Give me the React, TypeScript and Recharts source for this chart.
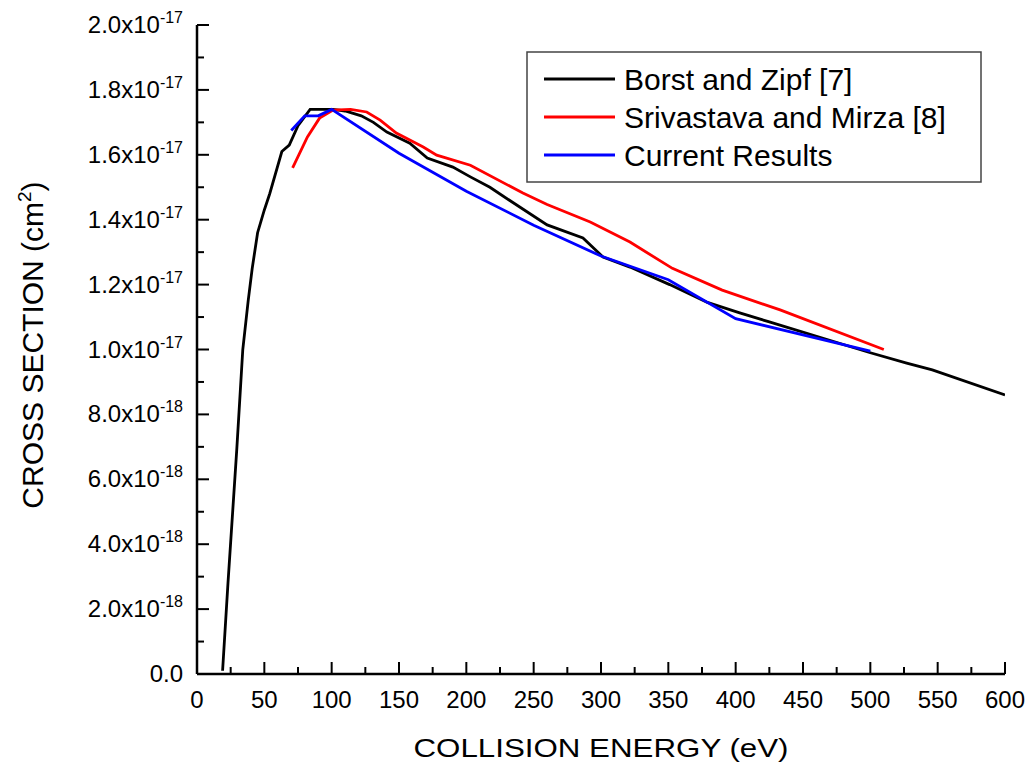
import React from 'react';
import { LineChart, Line, XAxis, YAxis, Legend } from 'recharts';

// Collision energy (eV) / cross section (cm^2)
const borstX = [19, 23, 29.5, 34, 38, 41, 45, 50, 54, 63, 68.5, 75, 84, 101, 110, 122, 131, 141, 158, 171, 190, 203, 217.5, 232, 260, 286.6, 301.5, 321.5, 351, 379, 403, 425, 500, 527, 546, 600];
const borstY = [0.1e-18, 2.8e-18, 6.9e-18, 10.0e-18, 11.5e-18, 12.5e-18, 13.6e-18, 14.3e-18, 14.8e-18, 16.1e-18, 16.3e-18, 16.9e-18, 17.4e-18, 17.4e-18, 17.35e-18, 17.2e-18, 17.0e-18, 16.7e-18, 16.36e-18, 15.9e-18, 15.62e-18, 15.32e-18, 15.0e-18, 14.6e-18, 13.84e-18, 13.44e-18, 12.85e-18, 12.54e-18, 12.0e-18, 11.45e-18, 11.13e-18, 10.85e-18, 9.9e-18, 9.58e-18, 9.37e-18, 8.6e-18];

const srivX = [71, 82, 91, 101, 114, 126, 136, 148, 168, 178, 203, 242, 260, 292, 321.5, 353, 390, 433, 510];
const srivY = [15.6e-18, 16.55e-18, 17.13e-18, 17.38e-18, 17.4e-18, 17.32e-18, 17.07e-18, 16.67e-18, 16.24e-18, 15.99e-18, 15.68e-18, 14.82e-18, 14.47e-18, 13.93e-18, 13.31e-18, 12.5e-18, 11.83e-18, 11.22e-18, 10.0e-18];

const currX = [70, 80, 90, 100, 150, 200, 250, 300, 350, 400, 500];
const currY = [16.75e-18, 17.2e-18, 17.2e-18, 17.4e-18, 16.05e-18, 14.88e-18, 13.83e-18, 12.88e-18, 12.15e-18, 10.95e-18, 9.95e-18];

const xTicks = [0, 25, 50, 75, 100, 125, 150, 175, 200, 225, 250, 275, 300, 325, 350, 375, 400, 425, 450, 475, 500, 525, 550, 575, 600];
const xTickLabels = ['0', '', '50', '', '100', '', '150', '', '200', '', '250', '', '300', '', '350', '', '400', '', '450', '', '500', '', '550', '', '600'];

const yTicks = [0, 1e-18, 2e-18, 3e-18, 4e-18, 5e-18, 6e-18, 7e-18, 8e-18, 9e-18, 10e-18, 11e-18, 12e-18, 13e-18, 14e-18, 15e-18, 16e-18, 17e-18, 18e-18, 19e-18, 20e-18];
const yTickMantissa = ['0.0', '', '2.0', '', '4.0', '', '6.0', '', '8.0', '', '1.0', '', '1.2', '', '1.4', '', '1.6', '', '1.8', '', '2.0'];
const yTickExponent = ['', '', '-18', '', '-18', '', '-18', '', '-18', '', '-17', '', '-17', '', '-17', '', '-17', '', '-17', '', '-17'];

const seriesNames = ['Borst and Zipf [7]', 'Srivastava and Mirza [8]', 'Current Results'];
const seriesColors = ['#000000', '#ff0000', '#0000ff'];

const toPoints = (xs: number[], ys: number[]) => xs.map((x, i) => ({ x, y: ys[i] }));
const borstData = toPoints(borstX, borstY);
const srivData = toPoints(srivX, srivY);
const currData = toPoints(currX, currY);

const FONT = '"Liberation Sans", Arial, sans-serif';
const MAJOR = 12;
const MINOR = 7;

const BottomTick = (props: any) => {
  const { x, y, index } = props;
  const label = xTickLabels[index];
  const len = label ? MAJOR : MINOR;
  return (
    <g>
      <line x1={x} y1={y} x2={x} y2={y - len} stroke="#000" strokeWidth={2} />
      {label ? (
        <text x={x} y={y + 34} textAnchor="middle" fontSize={24} fontFamily={FONT} fill="#000">
          {label}
        </text>
      ) : null}
    </g>
  );
};

const TopTick = (props: any) => {
  const { x, y, index } = props;
  const len = xTickLabels[index] ? MAJOR : MINOR;
  return <line x1={x} y1={y} x2={x} y2={y + len} stroke="#000" strokeWidth={2} />;
};

const LeftTick = (props: any) => {
  const { x, y, index } = props;
  const m = yTickMantissa[index];
  const e = yTickExponent[index];
  const len = m ? MAJOR : MINOR;
  return (
    <g>
      <line x1={x} y1={y} x2={x + len} y2={y} stroke="#000" strokeWidth={2} />
      {m ? (
        <text x={x - 14} y={y + 8} textAnchor="end" fontSize={24} fontFamily={FONT} fill="#000">
          {m}
          {e ? 'x10' : ''}
          {e ? (
            <tspan dy={-10} fontSize={16}>
              {e}
            </tspan>
          ) : null}
        </text>
      ) : null}
    </g>
  );
};

const RightTick = (props: any) => {
  const { x, y, index } = props;
  const len = yTickMantissa[index] ? MAJOR : MINOR;
  return <line x1={x} y1={y} x2={x - len} y2={y} stroke="#000" strokeWidth={2} />;
};

const XTitle = () => (
  <text x={601} y={757} textAnchor="middle" fontSize={26} fontFamily={FONT} fill="#000" textLength={375} lengthAdjust="spacingAndGlyphs">
    COLLISION ENERGY (eV)
  </text>
);

const YTitle = () => (
  <text x={43} y={345} transform="rotate(-90 43 345)" textAnchor="middle" fontSize={30} fontFamily={FONT} fill="#000">
    CROSS SECTION (cm
    <tspan dy={-12} fontSize={19}>2</tspan>
    <tspan dy={12}>)</tspan>
  </text>
);

const LegendBox = () => (
  <svg width={456} height={132} style={{ display: 'block' }}>
    <rect x={1} y={1} width={454} height={130} fill="#fff" stroke="#444" strokeWidth={1.5} />
    {seriesNames.map((name, i) => (
      <g key={name}>
        <line x1={18} x2={89} y1={28 + i * 38} y2={28 + i * 38} stroke={seriesColors[i]} strokeWidth={2.8} />
        <text x={98} y={39 + i * 38} fontSize={30} fontFamily={FONT} fill="#000">
          {name}
        </text>
      </g>
    ))}
  </svg>
);

export default function App() {
  return (
    <div style={{ position: 'absolute', left: 0, top: 0, width: 1030, height: 764, background: '#fff' }}>
      <LineChart width={1030} height={764} margin={{ top: 25, right: 25, bottom: 0, left: 0 }}>
        <XAxis
          xAxisId="b"
          dataKey="x"
          type="number"
          domain={[0, 600]}
          ticks={xTicks}
          interval={0}
          height={90}
          tickSize={0}
          tickMargin={0}
          tickLine={false}
          axisLine={{ stroke: '#000', strokeWidth: 2.5 }}
          tick={<BottomTick />}
          label={<XTitle />}
          allowDataOverflow
        />
        <XAxis
          xAxisId="t"
          dataKey="x"
          type="number"
          orientation="top"
          domain={[0, 600]}
          ticks={xTicks}
          interval={0}
          height={0}
          tickSize={0}
          tickMargin={0}
          tickLine={false}
          axisLine={{ stroke: '#000', strokeWidth: 2.5 }}
          tick={<TopTick />}
          allowDataOverflow
        />
        <YAxis
          yAxisId="l"
          type="number"
          domain={[0, 2e-17]}
          ticks={yTicks}
          interval={0}
          width={197}
          tickSize={0}
          tickMargin={0}
          tickLine={false}
          axisLine={{ stroke: '#000', strokeWidth: 2.5 }}
          tick={<LeftTick />}
          label={<YTitle />}
          allowDataOverflow
        />
        <YAxis
          yAxisId="r"
          type="number"
          orientation="right"
          domain={[0, 2e-17]}
          ticks={yTicks}
          interval={0}
          width={0}
          tickSize={0}
          tickMargin={0}
          tickLine={false}
          axisLine={{ stroke: '#000', strokeWidth: 2.5 }}
          tick={<RightTick />}
          allowDataOverflow
        />
        <Line xAxisId="b" yAxisId="l" data={borstData} dataKey="y" name={seriesNames[0]} type="linear" stroke={seriesColors[0]} strokeWidth={2.8} dot={false} isAnimationActive={false} />
        <Line xAxisId="b" yAxisId="l" data={srivData} dataKey="y" name={seriesNames[1]} type="linear" stroke={seriesColors[1]} strokeWidth={2.8} dot={false} isAnimationActive={false} />
        <Line xAxisId="b" yAxisId="l" data={currData} dataKey="y" name={seriesNames[2]} type="linear" stroke={seriesColors[2]} strokeWidth={2.8} dot={false} isAnimationActive={false} />
        <Legend
          layout="horizontal"
          verticalAlign="middle"
          align="center"
          content={() => <LegendBox />}
          wrapperStyle={{ position: 'absolute', left: 526, top: 51, width: 456, height: 132 }}
        />
      </LineChart>
    </div>
  );
}
